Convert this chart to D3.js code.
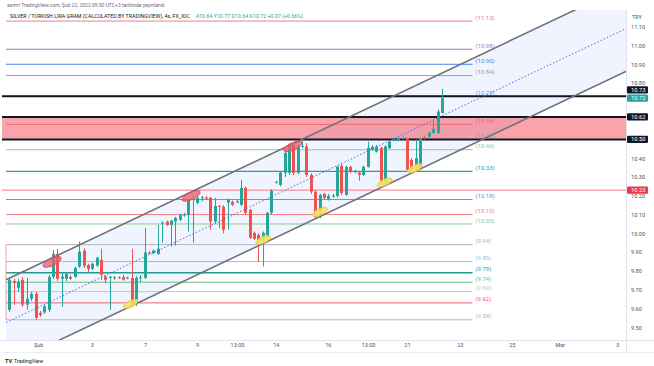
<!DOCTYPE html>
<html>
<head>
<meta charset="utf-8">
<script src="https://cdn.jsdelivr.net/npm/d3@7/dist/d3.min.js"></script>
<style>
  body { margin: 0; background: #fff; }
  svg { display: block; font-family: Roboto, "Liberation Sans", sans-serif; }
</style>
</head>
<body>
<svg id="chart" width="654" height="366"></svg>
<script>
// 4h candles, SILVER / TRY gram (bar 0 .. 99)
var opens = [9.593,9.747,9.710,9.753,9.620,9.652,9.678,9.577,9.579,9.593,
  9.768,9.891,9.758,9.758,9.768,9.768,9.823,9.908,9.832,9.811,
  9.828,9.859,9.770,9.763,9.763,9.766,9.768,9.763,9.763,9.625,
  9.763,9.763,9.898,9.895,9.891,10.053,10.063,10.045,10.063,10.072,
  10.098,10.098,10.178,10.162,10.189,10.190,10.189,10.063,10.146,10.141,
  10.163,10.168,10.165,10.152,10.242,10.125,10.003,9.992,9.965,9.981,
  10.109,10.270,10.258,10.322,10.322,10.471,10.322,10.462,10.462,10.311,
  10.222,10.089,10.210,10.184,10.199,10.199,10.359,10.205,10.354,10.329,
  10.323,10.311,10.354,10.444,10.435,10.455,10.267,10.453,10.497,10.492,
  10.506,10.506,10.391,10.342,10.347,10.512,10.515,10.535,10.533,10.640];
var highs = [9.763,9.758,9.758,9.768,9.763,9.689,9.689,9.587,9.620,9.779,
  9.912,9.918,9.795,9.795,9.779,9.822,9.956,9.921,9.838,9.845,
  9.875,9.918,9.779,9.773,9.773,9.772,9.780,9.770,9.918,9.773,
  9.779,10.029,9.905,9.915,10.045,10.063,10.068,10.072,10.088,10.105,
  10.110,10.185,10.199,10.199,10.200,10.200,10.195,10.189,10.150,10.150,
  10.185,10.175,10.180,10.285,10.250,10.130,10.010,10.000,10.010,10.115,
  10.235,10.280,10.330,10.440,10.480,10.480,10.470,10.490,10.480,10.320,
  10.230,10.210,10.215,10.210,10.210,10.360,10.370,10.360,10.360,10.340,
  10.330,10.360,10.488,10.470,10.470,10.460,10.470,10.495,10.505,10.510,
  10.515,10.510,10.400,10.500,10.510,10.520,10.540,10.600,10.660,10.770];
var lows = [9.582,9.620,9.689,9.609,9.593,9.641,9.540,9.556,9.572,9.582,
  9.758,9.747,9.609,9.747,9.752,9.763,9.816,9.816,9.795,9.805,
  9.822,9.753,9.736,9.593,9.753,9.758,9.748,9.756,9.609,9.614,
  9.740,9.758,9.890,9.890,9.885,9.950,10.040,9.930,9.935,10.065,
  10.088,10.010,9.950,10.155,10.170,10.180,10.019,10.055,10.029,10.000,
  10.020,10.145,10.160,10.145,10.100,9.970,9.965,9.850,9.823,9.975,
  10.100,10.265,10.250,10.300,10.310,10.310,10.315,10.455,10.300,10.210,
  10.080,10.080,10.180,10.175,10.190,10.190,10.205,10.200,10.320,10.320,
  10.280,10.305,10.350,10.440,10.430,10.260,10.260,10.450,10.490,10.490,
  10.500,10.330,10.330,10.335,10.340,10.500,10.510,10.530,10.530,10.640];
var closes = [9.753,9.736,9.742,9.620,9.652,9.678,9.551,9.566,9.611,9.768,
  9.891,9.758,9.770,9.785,9.758,9.816,9.903,9.828,9.811,9.838,
  9.870,9.779,9.753,9.768,9.766,9.763,9.753,9.765,9.620,9.763,
  9.766,9.898,9.895,9.908,9.918,10.058,10.045,10.068,10.082,10.098,
  10.100,10.178,10.184,10.189,10.192,10.188,10.063,10.146,10.141,10.019,
  10.178,10.152,10.170,10.242,10.109,9.976,9.971,9.965,10.003,10.109,
  10.228,10.275,10.323,10.428,10.471,10.322,10.462,10.466,10.311,10.222,
  10.089,10.205,10.189,10.199,10.201,10.355,10.215,10.354,10.329,10.331,
  10.311,10.354,10.455,10.460,10.462,10.267,10.462,10.488,10.499,10.506,
  10.508,10.338,10.338,10.400,10.506,10.510,10.536,10.556,10.648,10.720];

// price axis ticks and time axis labels (bar index where the label sits)
var priceTicks = [11.10, 11.00, 10.90, 10.80, 10.40, 10.30, 10.20, 10.10, 10.00, 9.90, 9.80, 9.70, 9.60, 9.50];
var timeTickIdx = [6.6, 18.9, 31.05, 42.95, 52.1, 61, 72.9, 82.1, 91, 103.1, 115, 126, 139.1];
var timeTickText = ["Şub", "3", "7", "9", "13:00", "14", "16", "13:00", "21", "23", "25", "Mar", "3"];

// labelled horizontal lines drawn by the author
var hLevels = [11.13, 10.98, 10.90, 10.84, 10.73, 10.58, 10.50, 10.445, 10.33, 10.18, 10.10, 10.05, 9.94, 9.85, 9.79, 9.74, 9.69, 9.63, 9.54];
var hLabels = ["(11.13)", "(10.98)", "(10.90)", "(10.84)", "(10.73)", "(10.58)", "(10.50)", "(10.46)", "(10.33)", "(10.18)", "(10.10)", "(10.05)", "(9.94)", "(9.85)", "(9.79)", "(9.74)", "(9.69)", "(9.62)", "(9.54)"];
var hColors = ["#f27c85", "#b46fd1", "#4f7ff7", "#9a9ca6", "#6ea3f5", "#f06a74", "#9a9ca6", "#8cc98f", "#22a597", "#7b86e6", "#f27c85", "#8cc98f", "#b2b5be", "#8fc1f5", "#1f9c8c", "#6dbb70", "#a9d8aa", "#f0616c", "#b2b5be"];

// full width levels
var blackLevels = [10.73, 10.62, 10.50];
var redLevel = 10.23;
var zoneTop = 10.62, zoneBottom = 10.50;

// parallel channel: two points on the upper line, and its height in price
var channelA = {i: -0.76, v: 9.753};
var channelB = {i: 129, v: 11.184};
var channelHeight = 0.456;

// marked tops (pink) and bottoms (yellow)
var topMarks = [{i: 9.8, v: 9.848}, {i: 41.6, v: 10.199}, {i: 64.9, v: 10.463}];
var bottomMarks = [{i: 27.8, v: 9.625}, {i: 58.1, v: 9.965}, {i: 71.1, v: 10.114}, {i: 85.9, v: 10.271}, {i: 92.8, v: 10.346}];

var lastPrice = closes[closes.length - 1];

var W = 654, H = 366;
var pane = {left: 2, right: 626, top: 10, bottom: 340};

var svg = d3.select("#chart");

var x = d3.scaleLinear().domain([0, 99]).range([9.3, 441.9]);
var y = d3.scaleLinear().domain([9.50, 11.10]).range([327.3, 26.7]);

var green = "#26a69a", red = "#ef5350";

svg.append("defs").append("clipPath").attr("id", "pane")
  .append("rect")
    .attr("x", pane.left).attr("y", pane.top)
    .attr("width", pane.right - pane.left).attr("height", pane.bottom - pane.top);

var g = svg.append("g").attr("clip-path", "url(#pane)");

// channel geometry
var slope = (channelB.v - channelA.v) / (channelB.i - channelA.i);
var iEnd = x.invert(pane.right + 5);
function upper(i) { return channelA.v + slope * (i - channelA.i); }

g.append("path")
  .attr("d", d3.area()
    .x(function(d) { return x(d); })
    .y0(function(d) { return y(upper(d) - channelHeight); })
    .y1(function(d) { return y(upper(d)); })([channelA.i, iEnd]))
  .attr("fill", "rgba(41,98,255,0.07)");

// red zone
g.append("rect")
  .attr("x", pane.left).attr("width", pane.right - pane.left)
  .attr("y", y(zoneTop)).attr("height", y(zoneBottom) - y(zoneTop))
  .attr("fill", "rgba(242,54,69,0.45)");

// labelled horizontal lines
var lineStart = -0.75, lineEnd = 106;
var hl = g.selectAll(".hline").data(hLevels).enter().append("g").attr("class", "hline");
hl.append("line")
  .attr("x1", x(lineStart)).attr("x2", x(lineEnd))
  .attr("y1", function(d) { return y(d); }).attr("y2", function(d) { return y(d); })
  .attr("stroke", function(d, k) { return hColors[k]; })
  .attr("stroke-width", function(d, k) { return (d === 10.33 || d === 9.79) ? 1.4 : 1; });
hl.append("text")
  .attr("x", x(lineEnd) + 3)
  .attr("y", function(d) { return y(d) - 3.5; })
  .attr("dy", "0.35em")
  .attr("font-size", 6)
  .attr("fill", function(d, k) { return hColors[k]; })
  .text(function(d, k) { return hLabels[k]; });

// left edge marker of the lower box
g.append("line")
  .attr("x1", x(lineStart)).attr("x2", x(lineStart))
  .attr("y1", y(9.94)).attr("y2", y(9.54))
  .attr("stroke", "#f3a0a6").attr("stroke-width", 1);

// red full width line
g.append("line")
  .attr("x1", pane.left).attr("x2", pane.right)
  .attr("y1", y(redLevel)).attr("y2", y(redLevel))
  .attr("stroke", "#f77c84").attr("stroke-width", 1);

// black levels
g.selectAll(".blk").data(blackLevels).enter().append("line")
  .attr("x1", pane.left).attr("x2", pane.right)
  .attr("y1", function(d) { return y(d); }).attr("y2", function(d) { return y(d); })
  .attr("stroke", "#131722").attr("stroke-width", 2);

// candles
var bars = d3.range(opens.length);
var cg = g.append("g");
cg.selectAll(".wick").data(bars).enter().append("line")
  .attr("x1", function(i) { return Math.round(x(i)) + 0.5; })
  .attr("x2", function(i) { return Math.round(x(i)) + 0.5; })
  .attr("y1", function(i) { return y(highs[i]); })
  .attr("y2", function(i) { return y(lows[i]); })
  .attr("stroke", function(i) { return closes[i] >= opens[i] ? green : red; })
  .attr("stroke-width", 1);
cg.selectAll(".body").data(bars).enter().append("rect")
  .attr("x", function(i) { return Math.round(x(i)) - 1; })
  .attr("width", 3)
  .attr("y", function(i) { return y(Math.max(opens[i], closes[i])); })
  .attr("height", function(i) { return Math.max(1, Math.abs(y(opens[i]) - y(closes[i]))); })
  .attr("fill", function(i) { return closes[i] >= opens[i] ? green : red; });

// channel lines
[0, -channelHeight].forEach(function(off) {
  g.append("line")
    .attr("x1", x(channelA.i)).attr("y1", y(upper(channelA.i) + off))
    .attr("x2", x(iEnd)).attr("y2", y(upper(iEnd) + off))
    .attr("stroke", "#6f727c").attr("stroke-width", 1.6);
});
g.append("line")
  .attr("x1", x(channelA.i)).attr("y1", y(upper(channelA.i) - channelHeight / 2))
  .attr("x2", x(iEnd)).attr("y2", y(upper(iEnd) - channelHeight / 2))
  .attr("stroke", "#3f6fe8").attr("stroke-width", 1).attr("stroke-dasharray", "1.5,2");

// marks
var angle = -Math.atan((y(0) - y(slope)) / (x(1) - x(0))) * 180 / Math.PI;
g.selectAll(".top").data(topMarks).enter().append("ellipse")
  .attr("transform", function(d) { return "translate(" + x(d.i) + "," + y(d.v) + ") rotate(" + angle + ")"; })
  .attr("rx", 10).attr("ry", 3.6)
  .attr("fill", "rgba(233,92,110,0.75)").attr("stroke", "#d9485a").attr("stroke-width", 0.8);
g.selectAll(".bot").data(bottomMarks).enter().append("ellipse")
  .attr("transform", function(d) { return "translate(" + x(d.i) + "," + y(d.v) + ") rotate(" + angle + ")"; })
  .attr("rx", 8).attr("ry", 3.2)
  .attr("fill", "rgba(247,226,96,0.9)").attr("stroke", "#e8c446").attr("stroke-width", 0.8);

// frame lines
svg.append("line").attr("x1", pane.right + 0.5).attr("x2", pane.right + 0.5).attr("y1", pane.top).attr("y2", 352)
  .attr("stroke", "#e0e3eb");
svg.append("line").attr("x1", 0).attr("x2", W).attr("y1", pane.bottom + 0.5).attr("y2", pane.bottom + 0.5)
  .attr("stroke", "#e0e3eb");
svg.append("line").attr("x1", 0).attr("x2", W).attr("y1", 352.5).attr("y2", 352.5)
  .attr("stroke", "#eceef2");

// price axis
var yAxis = d3.axisRight(y).tickValues(priceTicks).tickSize(0).tickPadding(0).tickFormat(d3.format(".2f"));
var ya = svg.append("g").attr("transform", "translate(" + 631 + ",0)").call(yAxis);
ya.select(".domain").remove();
ya.selectAll("text").attr("font-size", 5.6).attr("fill", "#50535e").attr("font-family", "Roboto, sans-serif");

svg.append("text").attr("x", 632).attr("y", 17).attr("dy", "0.35em")
  .attr("font-size", 5.5).attr("fill", "#50535e").text("TRY");

// price labels on the axis (the 10.73 box is pushed up off the last price)
var boxes = [
  {v: lastPrice, text: lastPrice.toFixed(2), fill: green, shift: 0},
  {v: 10.73, text: "10.73", fill: "#131722", shift: -6.3},
  {v: 10.62, text: "10.62", fill: "#131722", shift: 0},
  {v: 10.50, text: "10.50", fill: "#131722", shift: 0},
  {v: redLevel, text: redLevel.toFixed(2), fill: "#f23645", shift: 0}
];
var bx = svg.selectAll(".pbox").data(boxes).enter().append("g")
  .attr("transform", function(d) { return "translate(627," + (y(d.v) + d.shift) + ")"; });
bx.append("rect").attr("x", 0).attr("y", -3.6).attr("width", 21).attr("height", 7.2).attr("rx", 1)
  .attr("fill", function(d) { return d.fill; });
bx.append("text").attr("x", 4).attr("dy", "0.35em").attr("font-size", 5.8).attr("fill", "#fff")
  .text(function(d) { return d.text; });

// time axis
var xAxis = d3.axisBottom(x).tickValues(timeTickIdx).tickSize(0).tickPadding(0)
  .tickFormat(function(d, k) { return timeTickText[k]; });
var xa = svg.append("g").attr("transform", "translate(0," + 343 + ")").call(xAxis);
xa.select(".domain").remove();
xa.selectAll("text").attr("font-size", 5.5).attr("fill", "#50535e").attr("font-family", "Roboto, sans-serif");

// header
svg.append("text").attr("x", 7).attr("y", 5).attr("dy", "0.35em")
  .attr("font-size", 5).attr("fill", "#6a6d78")
  .text("asmrr TradingView.com, Şub 22, 2022 09:50 UTC+3 tarihinde yayınlandı");
var hdr = svg.append("text").attr("x", 10).attr("y", 16.5).attr("dy", "0.35em").attr("font-size", 5.3);
hdr.append("tspan").attr("fill", "#131722").text("SILVER / TURKISH LIRA GRAM (CALCULATED BY TRADINGVIEW), 4s, FX_IDC");
hdr.append("tspan").attr("dx", 6).attr("fill", green)
  .text("A" + opens[99].toFixed(2) + "  Y" + highs[99].toFixed(2) + "  D" + lows[99].toFixed(2) + "  K" + closes[99].toFixed(2) + "  +0.07 (+0.66%)");

// footer logo
svg.append("text").attr("x", 5).attr("y", 361).attr("dy", "0.35em").attr("font-size", 5.5)
  .attr("fill", "#131722").attr("font-weight", "bold").text("TV");
svg.append("text").attr("x", 14).attr("y", 361).attr("dy", "0.35em").attr("font-size", 5.3)
  .attr("fill", "#131722").text("TradingView");
</script>
</body>
</html>
